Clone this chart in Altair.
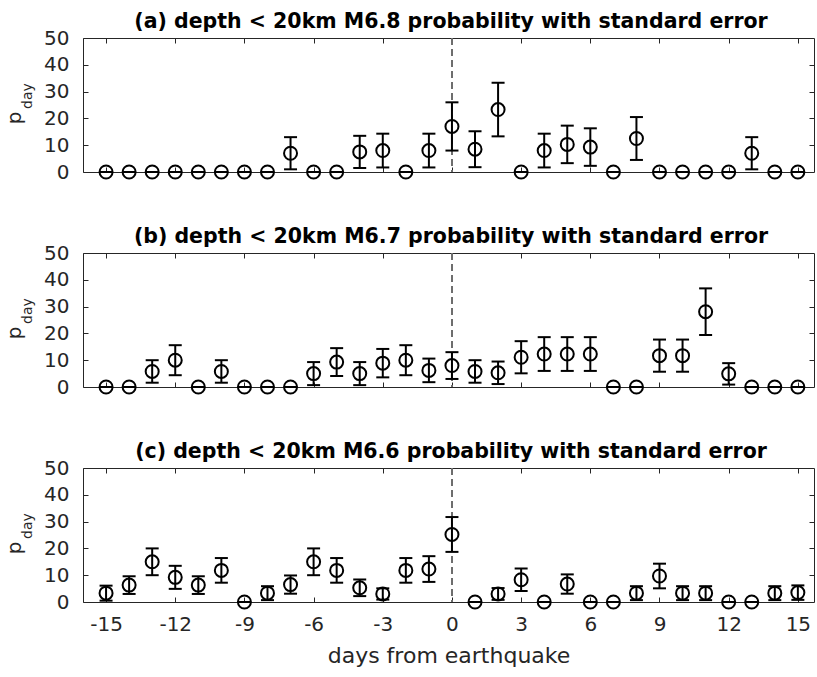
import altair as alt
import pandas as pd

# Days relative to the mainshock
days = list(range(-15, 16))

# Daily probability (%) and its standard error, one pair per panel
p_a = [0, 0, 0, 0, 0, 0, 0, 0, 7.0, 0, 0, 7.5, 8.0, 0, 8.0, 17.0, 8.5, 23.3, 0,
       8.0, 10.3, 9.3, 0, 12.5, 0, 0, 0, 0, 7.0, 0, 0]
se_a = [0, 0, 0, 0, 0, 0, 0, 0, 6.0, 0, 0, 6.0, 6.3, 0, 6.3, 9.0, 6.7, 10.0, 0,
        6.3, 7.0, 7.0, 0, 8.0, 0, 0, 0, 0, 6.0, 0, 0]

p_b = [0, 0, 5.8, 10.0, 0, 5.8, 0, 0, 0, 5.0, 9.3, 5.0, 8.9, 10.0, 6.2, 8.0, 5.8,
       5.3, 11.1, 12.3, 12.3, 12.3, 0, 0, 11.7, 11.7, 28.1, 4.9, 0, 0, 0]
se_b = [0, 0, 4.2, 5.6, 0, 4.2, 0, 0, 0, 4.3, 5.2, 4.3, 5.3, 5.6, 4.4, 5.0, 4.2,
        4.2, 6.0, 6.3, 6.3, 6.3, 0, 0, 6.0, 6.0, 8.7, 4.0, 0, 0, 0]

p_c = [3.3, 6.3, 15.0, 9.2, 6.3, 11.8, 0, 3.3, 6.5, 15.0, 11.8, 5.3, 3.0, 11.8,
       12.3, 25.2, 0, 3.0, 8.3, 0, 6.7, 0, 0, 3.3, 9.7, 3.3, 3.3, 0, 0, 3.3, 3.5]
se_c = [2.8, 3.3, 5.0, 4.3, 3.3, 4.6, 0, 2.6, 3.4, 5.0, 4.6, 3.1, 2.1, 4.6,
        4.8, 6.5, 0, 2.2, 4.2, 0, 3.6, 0, 0, 2.6, 4.6, 2.6, 2.6, 0, 0, 2.6, 2.7]

panel_titles = [
    "(a) depth < 20km M6.8 probability with standard error",
    "(b) depth < 20km M6.7 probability with standard error",
    "(c) depth < 20km M6.6 probability with standard error",
]

x_ticks = [-15, -12, -9, -6, -3, 0, 3, 6, 9, 12, 15]
y_ticks = [0, 10, 20, 30, 40, 50]
y_inner_ticks = [10, 20, 30, 40]
x_title = "days from earthquake"
y_title_main = ["p"]
y_title_sub = ["day"]

INK = "#262626"
FONT = "DejaVu Sans"
W, H = 731, 134

x_scale = alt.Scale(domain=[-16, 15.7], nice=False, zero=False)
y_scale = alt.Scale(domain=[0, 50], nice=False, zero=False)


def inner_axis(orient, values, labels=False, **kw):
    # ticks pointing into the plot: the axis is pulled inside by the tick length
    opts = dict(orient=orient, values=values, offset=-5, tickSize=5,
                tickColor=INK, tickWidth=1, domain=False, grid=False,
                labels=labels, labelFont=FONT, labelFontSize=20,
                labelColor=INK, labelExpr="'' + datum.value", title=None)
    opts.update(kw)
    return alt.Axis(**opts)


def panel(title, p, se, last):
    df = pd.DataFrame({
        "day": days,
        "p": p,
        "lo": [v - e for v, e in zip(p, se)],
        "hi": [v + e for v, e in zip(p, se)],
    })
    base = alt.Chart(df)

    if last:
        bottom = inner_axis("bottom", x_ticks, labels=True, labelPadding=12,
                            title=x_title, titleFont=FONT, titleFontSize=22,
                            titleFontWeight="normal", titleColor=INK,
                            titlePadding=11)
    else:
        bottom = inner_axis("bottom", x_ticks)

    left = inner_axis("left", y_ticks, labels=True, labelPadding=14)

    zero_line = alt.Chart(df).mark_rule(
        color="#6e6e6e", strokeWidth=1.2, strokeDash=[7, 4]
    ).encode(x=alt.datum(0, scale=x_scale, axis=None))

    bars = base.mark_rule(color="black", strokeWidth=2).encode(
        x=alt.X("day:Q", scale=x_scale, axis=bottom),
        y=alt.Y("lo:Q", scale=y_scale, axis=left),
        y2="hi:Q",
    )
    cap_hi = base.mark_tick(orient="horizontal", size=13, thickness=2,
                            color="black", opacity=1).encode(
        x=alt.X("day:Q", scale=x_scale, axis=None),
        y=alt.Y("hi:Q", scale=y_scale, axis=None),
    )
    cap_lo = base.mark_tick(orient="horizontal", size=13, thickness=2,
                            color="black", opacity=1).encode(
        x=alt.X("day:Q", scale=x_scale, axis=None),
        y=alt.Y("lo:Q", scale=y_scale, axis=None),
    )
    points = base.mark_point(shape="circle", filled=False, size=169,
                             strokeWidth=2, color="black", opacity=1).encode(
        x=alt.X("day:Q", scale=x_scale, axis=inner_axis("top", x_ticks)),
        y=alt.Y("p:Q", scale=y_scale, axis=inner_axis("right", y_inner_ticks)),
    )

    # panel heading, centred over the axes box
    heading = alt.Chart(pd.DataFrame({"t": [title]})).mark_text(
        align="center", baseline="alphabetic", font=FONT, fontSize=20.5,
        fontWeight="bold", color="black"
    ).encode(text="t:N", x=alt.value(368), y=alt.value(-10.5))

    y_main = alt.Chart(pd.DataFrame({"t": y_title_main})).mark_text(
        angle=270, align="center", baseline="alphabetic", font=FONT,
        fontSize=20, color=INK
    ).encode(text="t:N", x=alt.value(-62), y=alt.value(80))
    y_sub = alt.Chart(pd.DataFrame({"t": y_title_sub})).mark_text(
        angle=270, align="center", baseline="alphabetic", font=FONT,
        fontSize=14, color=INK
    ).encode(text="t:N", x=alt.value(-51), y=alt.value(58))

    return alt.layer(zero_line, bars, cap_hi, cap_lo, points,
                     heading, y_main, y_sub).properties(width=W, height=H)


chart = alt.VConcatChart(
    vconcat=[
        panel(panel_titles[0], p_a, se_a, False),
        panel(panel_titles[1], p_b, se_b, False),
        panel(panel_titles[2], p_c, se_c, True),
    ],
    spacing=81,
    bounds="flush",
).properties(
    padding={"left": 4, "top": 11, "right": 0, "bottom": 0},
    background="white",
).configure_view(stroke=INK, strokeWidth=1)

chart.save("out.html", embed_options={"renderer": "svg", "actions": False})
